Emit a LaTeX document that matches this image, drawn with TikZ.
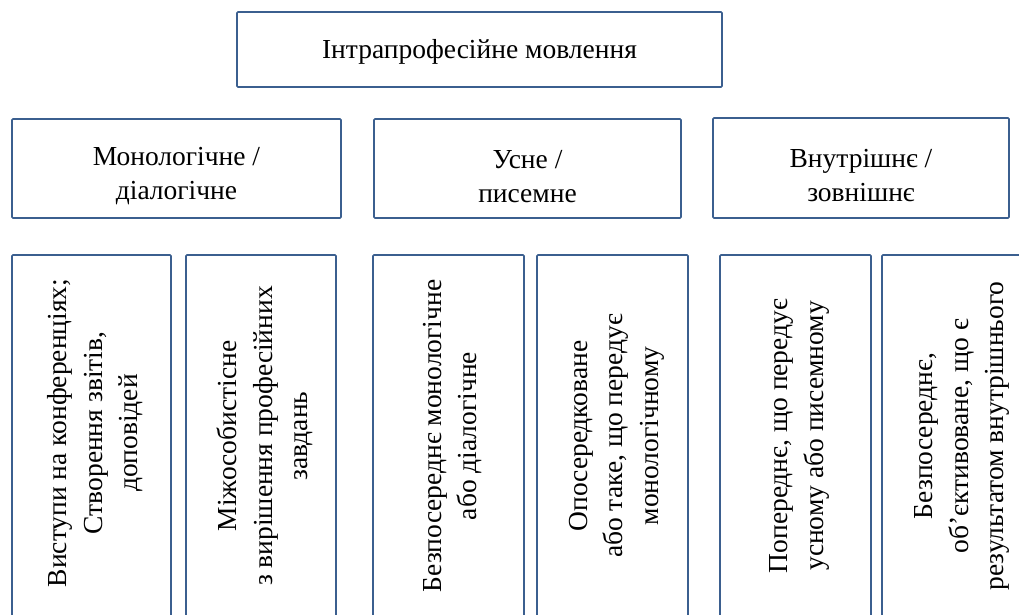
\documentclass[tikz,border=0pt]{standalone}
\usepackage{fontspec}
\setmainfont{Liberation Serif}
\definecolor{boxline}{HTML}{3B5F8F}
\begin{document}
\begin{tikzpicture}[x=1pt,y=-1pt,
  box/.style={draw=boxline, line width=1.6pt, rounded corners=1pt, fill=white, inner sep=0pt},
  txt/.style={align=center, inner sep=0pt, font=\fontsize{27.5}{34}\selectfont},
  vtxt/.style={txt, rotate=90, font=\fontsize{27.5}{35.5}\selectfont}]
\useasboundingbox (0,0) rectangle (1019,615);
\node[box, minimum width=485pt, minimum height=75pt] (top) at (479.5,49.5) {};
\node[txt] (topt) at ([yshift=-2pt]top.center) {Інтрапрофесійне мовлення};
\node[box, minimum width=329pt, minimum height=99pt] (m1) at (176.5,168.5) {};
\node[box, minimum width=307pt, minimum height=99pt] (m2) at (527.5,168.5) {};
\node[box, minimum width=296pt, minimum height=100pt] (m3) at (861,168) {};
\node[txt] (m1t) at ([yshift=-8pt]m1.center) {Монологічне /\\ діалогічне};
\node[txt] (m2t) at ([yshift=-8pt]m2.center) {Усне /\\ писемне};
\node[txt] (m3t) at ([yshift=-8pt]m3.center) {Внутрішнє /\\ зовнішнє};
\node[box, minimum width=159pt, minimum height=362pt] (b1) at (91.5,436) {};
\node[box, minimum width=150pt, minimum height=362pt] (b2) at (261,436) {};
\node[box, minimum width=151pt, minimum height=362pt] (b3) at (448.5,436) {};
\node[box, minimum width=151pt, minimum height=362pt] (b4) at (612.5,436) {};
\node[box, minimum width=151pt, minimum height=362pt] (b5) at (795.5,436) {};
\node[box, minimum width=152pt, minimum height=362pt] (b6) at (958,436) {};
\node[vtxt] (b1t) at ([xshift=4pt,yshift=3pt]b1.center) {Виступи на конференціях;\\ Створення звітів,\\ доповідей};
\node[vtxt] (b2t) at ([xshift=4pt]b2.center) {Міжособистісне\\ з вирішення професійних\\ завдань};
\node[vtxt] (b3t) at ([xshift=4pt]b3.center) {Безпосереднє монологічне\\ або діалогічне};
\node[vtxt] (b4t) at ([xshift=4pt]b4.center) {Опосередковане\\ або таке, що передує\\ монологічному};
\node[vtxt] (b5t) at ([xshift=4pt]b5.center) {Попереднє, що передує\\ усному або писемному};
\node[vtxt] (b6t) at ([xshift=4pt]b6.center) {Безпосереднє,\\ об’єктивоване, що є\\ результатом внутрішнього};
\end{tikzpicture}
\end{document}
